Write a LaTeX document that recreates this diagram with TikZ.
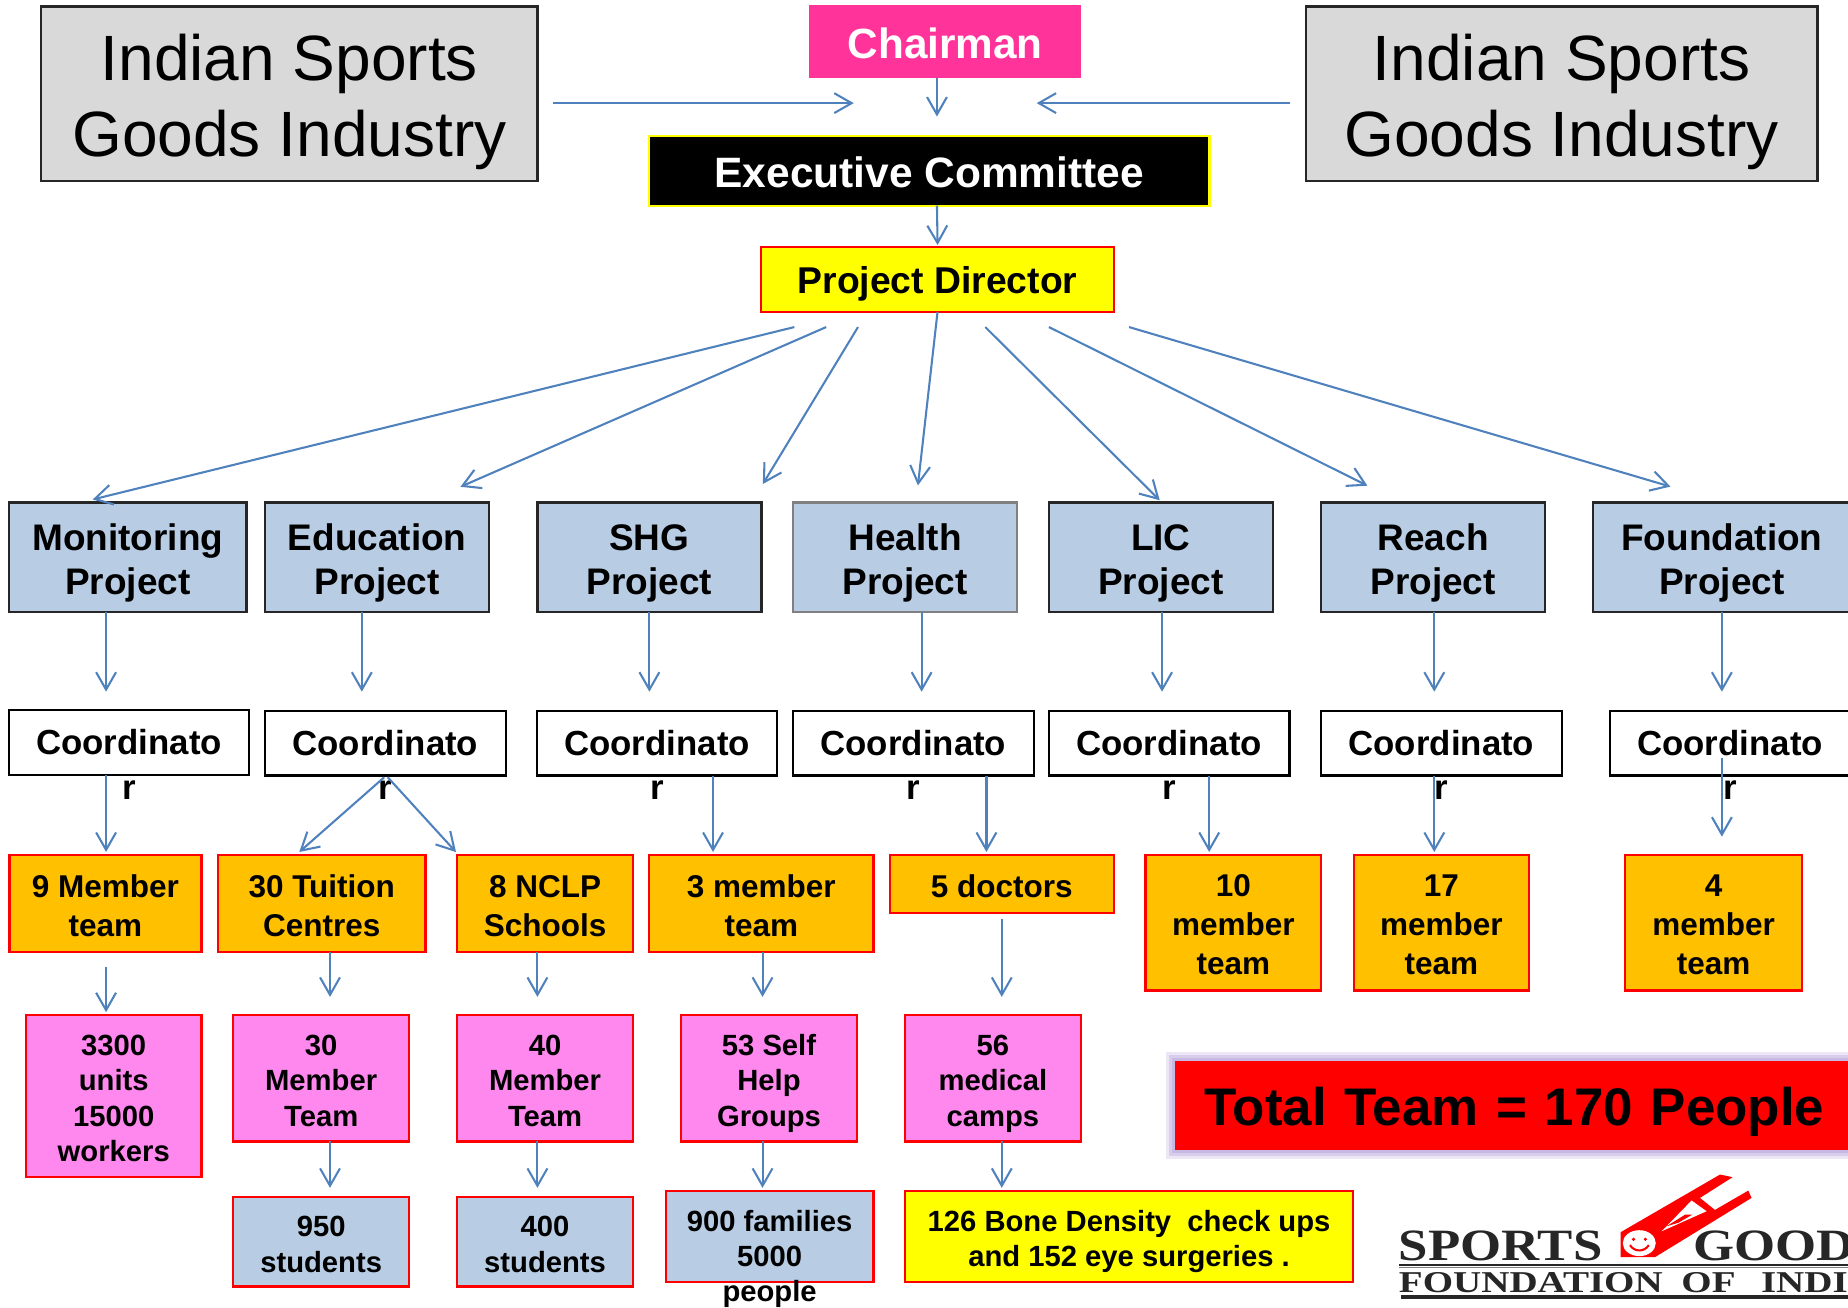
\documentclass[tikz,border=0pt]{standalone}
\usepackage{fontspec}
\setmainfont{Liberation Sans}
\newfontfamily\logofont{Liberation Serif}
\usetikzlibrary{arrows.meta,positioning,calc}
\definecolor{linkblue}{HTML}{4F81BD}
\definecolor{projblue}{HTML}{B8CCE4}
\definecolor{teamorange}{HTML}{FFC000}
\definecolor{campink}{HTML}{FF88EE}
\definecolor{chairpink}{HTML}{FF3399}
\definecolor{greybox}{HTML}{D9D9D9}
\definecolor{darkline}{HTML}{262626}
\definecolor{glowviolet}{HTML}{C8B8E4}
\definecolor{signyellow}{HTML}{FFFF00}
\begin{document}
\begin{tikzpicture}[x=0.01cm,y=-0.01cm,shift={(0,0.5)},
    textfix/.style 2 args={execute at begin node={\rule{0pt}{#1}},execute at end node={\rule[-#2]{0pt}{#2}}},
    box/.style={draw,rectangle,inner sep=0pt,outer sep=0pt,line width=0.55pt,align=center,font=\bfseries},
    titlebox/.style={box,draw=darkline,fill=greybox,minimum width=4.21cm,minimum height=1.48cm,textfix={34.3pt}{3.85pt},font=\fontsize{15.45}{18.5}\selectfont},
    projbox/.style={box,draw=darkline,fill=projblue,minimum height=0.93cm,minimum width=1.9cm,textfix={20.2pt}{2.2pt},font=\fontsize{8.92}{10.8}\selectfont\bfseries},
    coordbox/.style={box,draw=black,fill=white,minimum height=0.55cm,minimum width=2.04cm,textfix={8.1pt}{2.1pt},font=\fontsize{8.4}{10.8}\selectfont\bfseries},
    tailtext/.style={inner sep=0pt,outer sep=0pt,font=\fontsize{8.4}{10.8}\selectfont\bfseries},
    teambox/.style={box,draw=red,fill=teamorange,minimum height=0.82cm,minimum width=1.49cm,textfix={#1}{1.9pt},font=\fontsize{7.6}{9.4}\selectfont\bfseries},
    teambox/.default=17.88pt,
    campbox/.style={box,draw=red,fill=campink,minimum height=1.07cm,minimum width=1.49cm,textfix={#1}{1.76pt},font=\fontsize{7.05}{8.5}\selectfont\bfseries},
    campbox/.default=24.8pt,
    endbox/.style={box,draw=red,fill=projblue,minimum height=0.76cm,minimum width=1.49cm,textfix={16.5pt}{1.76pt},font=\fontsize{7.05}{8.5}\selectfont\bfseries},
    logotext/.style={anchor=west,inner sep=0pt,outer sep=0pt,text=darkline},
    link/.style={->,draw=linkblue,line width=0.5pt,shorten >=-0.4pt},
    >={Straight Barb[length=4.2pt,width=4.8pt]}]
\useasboundingbox (0,-0.5) rectangle (1568,1108.5);

% top row
\node[titlebox] (sportsL) at (245.5,79) {Indian Sports\\Goods Industry};
\node[titlebox,minimum width=4.34cm] (sportsR) at (1325,79) {Indian Sports\\Goods Industry};
\node[box,draw=chairpink,fill=chairpink,text=white,minimum width=2.29cm,minimum height=0.6cm,textfix={10.4pt}{2.55pt},font=\fontsize{10.2}{12}\selectfont\bfseries] (chairman) at (802,35) {Chairman};
\node[box,draw=signyellow,fill=black,text=white,minimum width=4.75cm,minimum height=0.59cm,textfix={10.5pt}{2.55pt},font=\fontsize{10.25}{12}\selectfont\bfseries] (execom) at (788.5,144.5) {Executive Committee};
\node[box,draw=red,fill=signyellow,minimum width=2.99cm,minimum height=0.55cm,textfix={9.3pt}{2.25pt},font=\fontsize{9}{11}\selectfont\bfseries] (director) at (795.5,236.5) {Project Director};
\coordinate (meetL) at (723,87);
\coordinate (meetR) at (881,87);

% projects
\node[projbox,minimum width=2.01cm] (monitoring) at (108.5,472.5) {Monitoring\\Project};
\node[projbox] (education) at (320,472.5) {Education\\Project};
\node[projbox] (shg) at (551,472.5) {SHG\\Project};
\node[projbox,draw=gray] (health) at (768,472.5) {Health\\Project};
\node[projbox] (lic) at (985,472.5) {LIC\\Project};
\node[projbox] (reach) at (1216,472.5) {Reach\\Project};
\node[projbox,minimum width=2.18cm] (foundation) at (1461,472.5) {Foundation\\Project};

% coordinators
\node[coordbox,minimum width=2.03cm] (coordA) at (109.5,629.5) {Coordinato};
\node[coordbox] (coordB) at (327,630) {Coordinato};
\node[coordbox] (coordC) at (557.5,630) {Coordinato};
\node[coordbox] (coordD) at (775,630) {Coordinato};
\node[coordbox] (coordE) at (992,630) {Coordinato};
\node[coordbox] (coordF) at (1223,630) {Coordinato};
\node[coordbox] (coordG) at (1468,630) {Coordinato};
\node[tailtext] (tailA) at (109.5,669.5) {r};
\node[tailtext] (tailB) at (327,669.5) {r};
\node[tailtext] (tailC) at (557.5,669.5) {r};
\node[tailtext] (tailD) at (775,669.5) {r};
\node[tailtext] (tailE) at (992,669.5) {r};
\node[tailtext] (tailF) at (1223,669.5) {r};
\node[tailtext] (tailG) at (1468,669.5) {r};

% teams
\node[teambox,minimum width=1.63cm] (nine) at (89.5,766) {9 Member\\team};
\node[teambox,minimum width=1.76cm] (tuition) at (273,766) {30 Tuition\\Centres};
\node[teambox] (nclp) at (462.5,766) {8 NCLP\\Schools};
\node[teambox,minimum width=1.9cm] (three) at (646,766) {3 member\\team};
\node[teambox=8.48pt,minimum width=1.9cm,minimum height=0.49cm] (doctors) at (850,749.5) {5 doctors};
\node[teambox=27pt,minimum height=1.15cm] (ten) at (1046.5,782.5) {10\\member\\team};
\node[teambox=27pt,minimum width=1.48cm,minimum height=1.15cm] (seventeen) at (1223,782.5) {17\\member\\team};
\node[teambox=27pt,minimum width=1.5cm,minimum height=1.15cm] (four) at (1454,782.5) {4\\member\\team};

% what the teams reach
\node[campbox=33.3pt,minimum height=1.37cm] (units) at (96.5,929.5) {3300\\units\\15000\\workers};
\node[campbox] (thirty) at (272.5,914.5) {30\\Member\\Team};
\node[campbox] (forty) at (462.5,914.5) {40\\Member\\Team};
\node[campbox] (groups) at (652.5,914.5) {53 Self\\Help\\Groups};
\node[campbox] (camps) at (842.5,914.5) {56\\medical\\camps};
\node[endbox] (students) at (272.5,1053) {950\\students};
\node[endbox] (nclpkids) at (462.5,1053) {400\\students};
\node[endbox,minimum width=1.76cm,minimum height=0.77cm] (families) at (653,1048.5) {900 families\\5000};
\node[inner sep=0pt,outer sep=0pt,font=\fontsize{7.05}{8.5}\selectfont\bfseries] (people) at (653,1097) {people};
\node[endbox,fill=signyellow,minimum width=3.8cm,minimum height=0.77cm] (surgeries) at (958,1048.5) {126 Bone Density~~check ups\\and 152 eye surgeries .};
\node[box,draw=red,fill=red,text width=5.34cm,inner xsep=0.24cm,minimum height=0.73cm,align=left,textfix={12.9pt}{3.2pt},font=\fontsize{12.77}{15}\selectfont\bfseries,
    preaction={draw=glowviolet!35,line width=5pt},preaction={draw=glowviolet!70,line width=3.5pt},preaction={draw=glowviolet,line width=2pt}] (total) at (1289,937.5) {Total Team = 170 People};

% logo
\fill[red] (1375.1,1045) -- (1459.4,996.1) -- (1470.1,998.3) -- (1442.4,1015.9) -- (1455.1,1026.1) -- (1483.4,1009.7) -- (1486.2,1015.9) -- (1404.2,1066.2) -- (1375.1,1066.2) -- cycle;
\fill[white] (1409.9,1044.2) -- (1435.3,1018.1) -- (1448,1027.2) -- cycle;
\fill[red] (1414,1040) -- (1430,1030) -- (1436,1030) -- (1424,1037) -- cycle;
\fill[white] (1390.9,1054.3) ellipse (14 and 11);
\fill[red] (1386,1051) circle (1.5) (1396,1051) circle (1.5);
\draw[red,line width=0.5pt] (1383,1056) .. controls (1387,1062) and (1395,1062) .. (1399,1056);
\node[logotext,xscale=1.18,font=\logofont\fontsize{10.8}{12}\selectfont\bfseries] (logoA) at (1187,1056.5) {SPORTS};
\node[logotext,xscale=1.18,font=\logofont\fontsize{10.8}{12}\selectfont\bfseries] (logoB) at (1437,1056.5) {GOOD};
\node[logotext,xscale=1.29,font=\logofont\fontsize{7.3}{9}\selectfont\bfseries] (logoC) at (1187,1087.5) {FOUNDATION \hspace{.23em}OF \hspace{.4em}INDI};
\draw[darkline,line width=0.55pt] (1187,1073) -- (1568,1073);
\draw[gray,line width=0.3pt] (1187,1075) -- (1568,1075);
\draw[darkline,line width=0.8pt] (1189,1100) -- (1568,1100);

% top arrows
\draw[link] ($(sportsL.east)+(13.5,8)$) -- (meetL);
\draw[link] ($(sportsR.west)+(-13,8)$) -- (meetR);
\draw[link] ($(chairman.south)+(-7,1)$) -- ($(execom.north)+(6.5,-18)$);
\draw[link] ($(execom.south)+(6.5,0)$) -- ($(director.north)+(0,-3)$);

% director to projects
\draw[link] ($(director.south)+(-121.5,13)$) -- ($(monitoring.north)+(-28.5,-3)$);
\draw[link] ($(director.south)+(-94.5,13)$) -- ($(education.north)+(72,-14)$);
\draw[link] ($(director.south)+(-67.5,13)$) -- ($(shg.north)+(97,-17)$);
\draw[link] (director.south) -- ($(health.north)+(11,-16)$);
\draw[link] ($(director.south)+(40.5,13)$) -- ($(lic.north)+(-2,-3)$);
\draw[link] ($(director.south)+(94.5,13)$) -- ($(reach.north)+(-57,-15)$);
\draw[link] ($(director.south)+(162.5,13)$) -- ($(foundation.north)+(-45,-14)$);

% projects to coordinators
\draw[link] ($(monitoring.south)+(-18.5,0)$) -- ($(coordA.north)+(-19.5,-17)$);
\draw[link] ($(education.south)+(-13,0)$) -- ($(coordB.north)+(-20,-17.5)$);
\draw[link] (shg.south) -- ($(coordC.north)+(-6.5,-17.5)$);
\draw[link] ($(health.south)+(14,0)$) -- ($(coordD.north)+(7,-17.5)$);
\draw[link] ($(lic.south)+(1,0)$) -- ($(coordE.north)+(-6,-17.5)$);
\draw[link] ($(reach.south)+(1,0)$) -- ($(coordF.north)+(-6,-17.5)$);
\draw[link] (foundation.south) -- ($(coordG.north)+(-7,-17.5)$);

% coordinators to teams
\draw[link] ($(coordA.south)+(-19.5,0)$) -- ($(nine.north)+(0.5,-4)$);
\draw[link] ($(coordB.south)+(-1,1.5)$) -- ($(tuition.north)+(-18,-3.5)$);
\draw[link] ($(coordB.south)+(2,1.5)$) -- ($(nclp.north)+(-76.5,-3.5)$);
\draw[link] ($(coordC.south)+(47.5,0)$) -- ($(three.north)+(-41,-4)$);
\draw[link] ($(coordD.south)+(62,0)$) -- ($(doctors.north)+(-13,-4)$);
\draw[link] ($(coordE.south)+(34,0)$) -- ($(ten.north)+(-20.5,-4)$);
\draw[link] ($(coordF.south)+(-6,0)$) -- ($(seventeen.north)+(-6,-4)$);
\draw[link] ($(coordG.south)+(-7,-15)$) -- ($(four.north)+(7,-17)$);

% teams to the next row
\draw[link] ($(nine.south)+(0.5,13)$) -- ($(units.north)+(-6.5,-4)$);
\draw[link] ($(tuition.south)+(7,0)$) -- ($(thirty.north)+(7.5,-17)$);
\draw[link] ($(nclp.south)+(-6.5,0)$) -- ($(forty.north)+(-6.5,-17)$);
\draw[link] ($(three.south)+(1,0)$) -- ($(groups.north)+(-5.5,-17)$);
\draw[link] ($(doctors.south)+(0,5)$) -- ($(camps.north)+(7.5,-17)$);
\draw[link] ($(thirty.south)+(7.5,0)$) -- ($(students.north)+(7.5,-9)$);
\draw[link] ($(forty.south)+(-6.5,0)$) -- ($(nclpkids.north)+(-6.5,-9)$);
\draw[link] ($(groups.south)+(-5.5,0)$) -- ($(families.north)+(-6,-4)$);
\draw[link] ($(camps.south)+(7.5,0)$) -- ($(surgeries.north)+(-108,-4)$);
\end{tikzpicture}
\end{document}
